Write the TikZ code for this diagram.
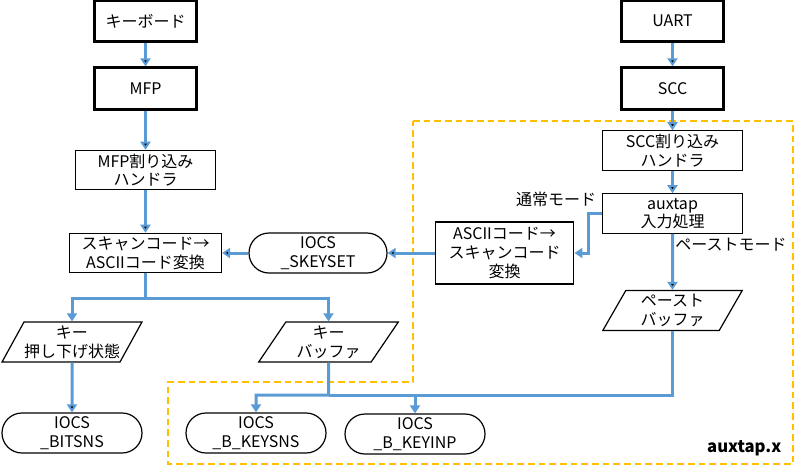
\documentclass[tikz,border=0pt]{standalone}
\usepackage{fontspec}
\setmainfont{Noto Sans CJK JP}
\usepackage{xcolor}
\usetikzlibrary{shapes.geometric,arrows.meta}
\definecolor{flowblue}{HTML}{5B9BD5}
\definecolor{auxyellow}{HTML}{FFC000}

\begin{document}
\begin{tikzpicture}[x=0.75pt, y=-0.75pt,
    font=\fontsize{12}{14}\selectfont,
    hw/.style={draw, line width=2.25pt, minimum width=77pt, minimum height=31pt, inner sep=0pt},
    proc/.style={draw, line width=0.9pt, minimum width=105pt, minimum height=29.5pt, inner sep=0pt, align=center},
    iocs/.style={draw, line width=0.9pt, rounded corners=15pt, minimum width=105pt, minimum height=30pt, inner sep=0pt, align=center},
    data/.style={draw, line width=0.9pt, trapezium, trapezium stretches=true,
        trapezium left angle=#1, trapezium right angle/.evaluated={180-#1},
        minimum width=105pt, minimum height=30pt, inner sep=0pt, align=center},
    flow/.style={draw=flowblue, line width=2.25pt, -{Triangle[length=6pt,width=7.5pt]}}]

    \useasboundingbox (0,0) rectangle (796,468);

    % auxtap.x area
    \draw[auxyellow, line width=1.5pt, dash pattern=on 5pt off 3pt]
        (413,121) -- (793,121) -- (793,464) -- (168,464) -- (168,382) -- (413,382) -- cycle;

    \node[hw] (kbd) at (145.5,21) {キーボード};
    \node[hw] (mfp) at (145.5,88.5) {MFP};
    \node[proc] (mfpint) at (145.5,170) {MFP割り込み\\ハンドラ};
    \node[proc, minimum width=114pt] (s2a) at (145.5,253) {スキャンコード→\\ASCIIコード変換};
    \node[iocs, minimum width=103.5pt] (skeyset) at (318,253) {IOCS\\\_SKEYSET};
    \node[proc, minimum width=104pt, minimum height=46.5pt] (a2s) at (504.5,253) {ASCIIコード→\\スキャンコード\\変換};

    \node[hw] (uart) at (672.5,21) {UART};
    \node[hw] (scc) at (672.5,88.5) {SCC};
    \node[proc] (sccint) at (672.5,150.5) {SCC割り込み\\ハンドラ};
    \node[proc] (aux) at (672.5,213.5) {auxtap\\入力処理};
    \node[data=64] (pbuf) at (672.5,310.5) {ペースト\\バッファ};

    \node[data=56] (keypress) at (72,342) {キー\\押し下げ状態};
    \node[data=58] (keybuf) at (328.5,342) {キー\\バッファ};
    \node[iocs] (bitsns) at (72,433) {IOCS\\\_BITSNS};
    \node[iocs] (keysns) at (256,433) {IOCS\\\_B\_KEYSNS};
    \node[iocs] (keyinp) at (415,434) {IOCS\\\_B\_KEYINP};

    \node (normal) at (556,199) {通常モード};
    \node (paste) at (731,245) {ペーストモード};
    \node[anchor=east, font=\fontsize{12.5}{14}\selectfont\bfseries] (file) at (786,448) {auxtap.x};

    \coordinate (split1) at (145.5,298);
    \coordinate (split2) at (328.5,395);

    \path[flow]
        (kbd) edge (mfp)
        (mfp) edge (mfpint)
        (mfpint) edge (s2a)
        (skeyset) edge (s2a)
        (a2s) edge (skeyset)
        (uart) edge (scc)
        (scc) edge (sccint)
        (sccint) edge (aux)
        (aux) edge (pbuf)
        (keypress) edge (bitsns);

    \draw[flow] (aux.west) -- ++(-13,0) |- (a2s);
    \draw[flow] (s2a) -- (split1) -| (keypress);
    \draw[flow] (split1) -| (keybuf);
    \draw[flow] (keybuf) -- (split2) -| (keysns);
    \draw[flow] (split2) -| (keyinp);
    \draw[flow, -] (pbuf) |- (split2);
\end{tikzpicture}
\end{document}
